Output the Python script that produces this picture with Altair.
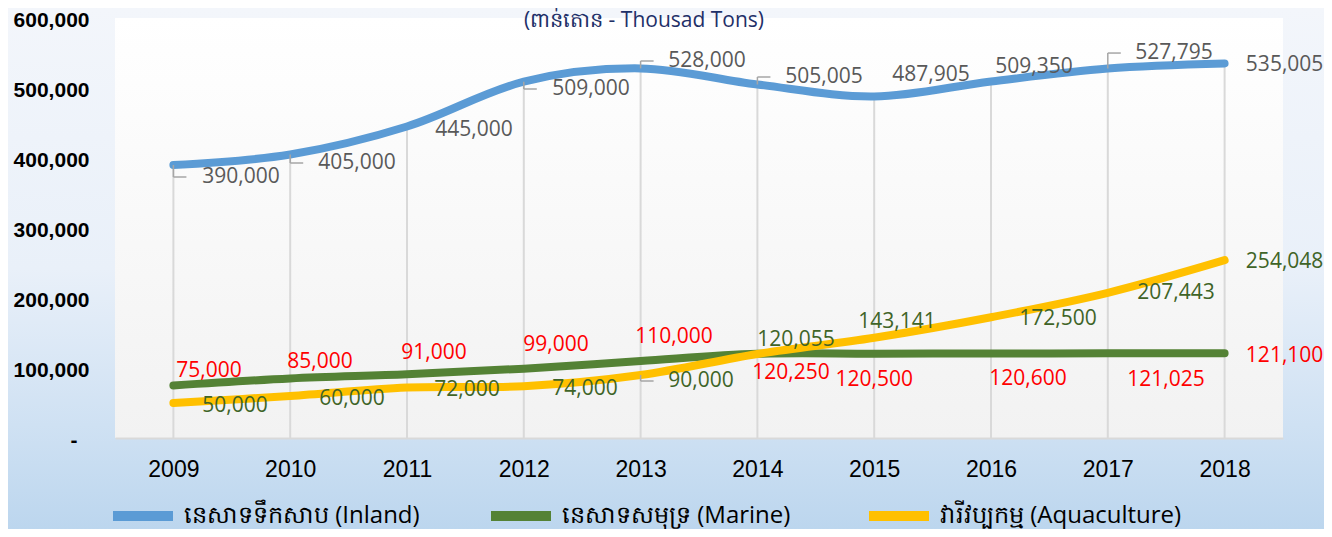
import altair as alt
import pandas as pd

# ---------------- data ----------------
years = [2009, 2010, 2011, 2012, 2013, 2014, 2015, 2016, 2017, 2018]
inland = [390000, 405000, 445000, 509000, 528000, 505005, 487905, 509350, 527795, 535005]
marine = [75000, 85000, 91000, 99000, 110000, 120250, 120500, 120600, 121025, 121100]
aquaculture = [50000, 60000, 72000, 74000, 90000, 120055, 143141, 172500, 207443, 254048]

series_names = ["នេសាទទឹកសាប (Inland)", "នេសាទសមុទ្រ (Marine)", "វារីវប្បកម្ម (Aquaculture)"]
title_text = "(ពាន់តោន - Thousad Tons)"
y_ticks = [0, 100000, 200000, 300000, 400000, 500000, 600000]

# data-label offsets from their points, in pixels (dx right, dy down)
inland_dx = [67.6, 66.8, 67, 67.2, 66.4, 66.6, 56.8, 43, 66.2, 60]
inland_dy = [12, 8.5, 3.5, 7.3, -7.4, -7.5, -21.5, -14.5, -15.5, 1.5]
marine_dx = [35.6, 29.8, 27, 32.2, 33.4, 33.6, 0, 37, 58.2, 60]
marine_dy = [-14.5, -16.5, -21.3, -23.7, -24, 19.2, 26.4, 25.4, 26.7, 2.8]
aqua_dx = [61.6, 61.8, 60, 61.2, 60.4, 38.6, 22.8, 67, 68.2, 60]
aqua_dy = [3, 3, 2.4, 2.8, 6, -14, -15.8, 1.75, 0.2, 1.8]
inland_leader = [1, 1, 0, 1, 1, 1, 0, 0, 1, 0]
aqua_leader = [0, 0, 0, 0, 1, 0, 0, 0, 0, 0]

# ---------------- layout ----------------
W, H = 1168, 420
PAD = {"left": 107, "top": 10, "right": 41, "bottom": 91}
PX_PER_YEAR = W / 10.0
PX_PER_TON = H / 600000.0
LEADER_LEN = 13 / PX_PER_YEAR

colors = ["#5b9bd5", "#548235", "#ffc000"]


def label_frame(vals, dx, dy, leader=None):
    rows = []
    for i, (yr, v) in enumerate(zip(years, vals)):
        rows.append({
            "year": yr,
            "value": v,
            "lx": yr + dx[i] / PX_PER_YEAR,
            "ly": v - dy[i] / PX_PER_TON,
            "leader": 1 if (leader is not None and leader[i]) else 0,
        })
    return pd.DataFrame(rows)


long_df = pd.DataFrame(
    [{"year": yr, "value": v, "series": series_names[0]} for yr, v in zip(years, inland)]
    + [{"year": yr, "value": v, "series": series_names[1]} for yr, v in zip(years, marine)]
    + [{"year": yr, "value": v, "series": series_names[2]} for yr, v in zip(years, aquaculture)]
)

inland_lab = label_frame(inland, inland_dx, inland_dy, inland_leader)
marine_lab = label_frame(marine, marine_dx, marine_dy)
aqua_lab = label_frame(aquaculture, aqua_dx, aqua_dy, aqua_leader)
leaders = pd.concat([inland_lab[inland_lab.leader == 1], aqua_lab[aqua_lab.leader == 1]])
leaders = leaders.assign(lx2=leaders.year + LEADER_LEN)

xscale = alt.Scale(domain=[2008.5, 2018.5], nice=False, zero=False)
yscale = alt.Scale(domain=[0, 600000], nice=False)

one = pd.DataFrame({"k": [0]})

outer_bg = alt.Chart(one).mark_rect(
    fill=alt.Gradient(
        gradient="linear",
        stops=[
            alt.GradientStop(color="#f3f6fb", offset=0),
            alt.GradientStop(color="#e9f0f9", offset=0.5),
            alt.GradientStop(color="#cfe1f3", offset=0.8),
            alt.GradientStop(color="#bcd6ee", offset=1),
        ],
        x1=0, x2=0, y1=0, y2=1,
    )
).encode(
    x=alt.value(-PAD["left"]), x2=alt.value(W + PAD["right"]),
    y=alt.value(-PAD["top"]), y2=alt.value(H + PAD["bottom"]),
)

plot_bg = alt.Chart(one).mark_rect(
    fill=alt.Gradient(
        gradient="linear",
        stops=[
            alt.GradientStop(color="#ffffff", offset=0),
            alt.GradientStop(color="#f2f2f2", offset=1),
        ],
        x1=0, x2=0, y1=0, y2=1,
    )
).encode(x=alt.value(0), x2=alt.value(W), y=alt.value(0), y2=alt.value(H))

drop_lines = alt.Chart(pd.DataFrame({"year": years, "value": inland})).transform_calculate(
    zero="0"
).mark_rule(color="#d9d9d9", strokeWidth=2).encode(
    x=alt.X("year:Q", scale=xscale),
    y=alt.Y("zero:Q", scale=yscale),
    y2="value:Q",
)

lines = alt.Chart(long_df).mark_line(
    strokeWidth=8, strokeCap="round", interpolate="cardinal"
).encode(
    x=alt.X(
        "year:Q", scale=xscale, title=None,
        axis=alt.Axis(
            values=years, format="d", grid=False, ticks=False,
            domainColor="#d9d9d9", domainWidth=2,
            labelFont="Liberation Sans", labelFontSize=23, labelColor="#000000",
            labelPadding=20, labelFlush=False, zindex=1,
        ),
    ),
    y=alt.Y(
        "value:Q", scale=yscale, title=None,
        axis=alt.Axis(
            values=y_ticks, grid=False, ticks=False, domain=False,
            labelExpr="datum.value == 0 ? '-' : format(datum.value, ',')",
            labelFont="Liberation Sans", labelFontSize=21, labelFontWeight="bold",
            labelColor="#000000", labelOffset=2, labelFlush=False,
            labelPadding={"condition": {"test": "datum.value === 0", "value": 38}, "value": 26},
            zindex=1,
        ),
    ),
    color=alt.Color(
        "series:N",
        scale=alt.Scale(domain=series_names, range=colors),
        sort=series_names,
        legend=alt.Legend(
            title=None, orient="none", direction="horizontal",
            legendX=-7, legendY=463,
            symbolType="stroke", symbolSize=3600, symbolStrokeWidth=10,
            labelFont="Open Sans", labelFontSize=24, labelColor="#000000",
            labelOffset=6, labelLimit=500, columnPadding=45, padding=0,
            gridAlign="all",
        ),
    ),
)

leader_v = alt.Chart(leaders).mark_rule(color="#a6a6a6", strokeWidth=1.5).encode(
    x=alt.X("year:Q", scale=xscale), y=alt.Y("value:Q", scale=yscale), y2="ly:Q"
)
leader_h = alt.Chart(leaders).mark_rule(color="#a6a6a6", strokeWidth=1.5).encode(
    x=alt.X("year:Q", scale=xscale), x2="lx2:Q", y=alt.Y("ly:Q", scale=yscale)
)


def text_layer(df, color):
    return alt.Chart(df).mark_text(
        font="Open Sans", fontSize=21, color=color, align="center", baseline="middle"
    ).encode(
        x=alt.X("lx:Q", scale=xscale),
        y=alt.Y("ly:Q", scale=yscale),
        text=alt.Text("value:Q", format=","),
    )


chart = alt.layer(
    outer_bg, plot_bg, drop_lines, lines, leader_v, leader_h,
    text_layer(inland_lab, "#595959"),
    text_layer(marine_lab, "#ff0000"),
    text_layer(aqua_lab, "#3f6427"),
).properties(
    width=W, height=H,
    autosize=alt.AutoSizeParams(type="none"),
    padding=PAD,
    title=alt.TitleParams(
        title_text, anchor="middle", dx=-55, offset=-23,
        font="Open Sans", fontSize=21, fontWeight="normal", color="#1f3068",
    ),
).configure_view(stroke=None).configure(background="#ffffff")

chart.save("out.html", embed_options={"renderer": "svg", "actions": False})
